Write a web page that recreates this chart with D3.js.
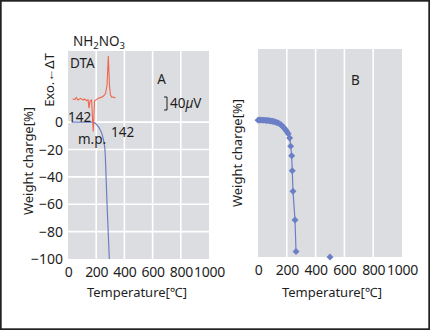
<!DOCTYPE html>
<html>
<head>
<meta charset="utf-8">
<script src="https://cdn.jsdelivr.net/npm/d3@7/dist/d3.min.js"></script>
<style>
  body { margin: 0; background: #fff; }
  text { font-family: "Noto Sans", sans-serif; fill: #1e1e1e; }
</style>
</head>
<body>
<div id="chart"></div>
<script>
const xTicks = [0, 200, 400, 600, 800, 1000];
const yTicks = [0, -20, -40, -60, -80, -100];

// A: TG curve of NH2NO3 (temperature in °C, weight change in %)
const tgTemp   = [26, 100, 150, 179, 205, 225, 245, 255, 262, 277, 293];
const tgWeight = [0, 0, 0, 0, -2, -5, -10, -15, -20, -60, -100];

// A: DTA trace (temperature in °C, signal in µV from baseline)
const dtaTemp = [33, 48, 59, 71, 90, 106, 118, 130, 142, 149, 156, 167, 179, 188, 201, 215, 236, 252, 266, 277, 286, 294, 301, 312, 323, 337];
const dtaUV   = [0, -2, 5, -3, 2, -3, 0, -5, -2, -28, -6, -3, -100, -6, -2, 2, 5, 9, 17, 43, 132, 43, 12, 5, 6, 3];

// B: measured weight change points
const bTemp   = [0, 10, 20, 30, 40, 50, 60, 70, 80, 90, 100, 110, 120, 130, 140, 150, 160, 170, 180, 190, 200, 210, 220, 227, 234, 238, 243, 257, 264, 500];
const bWeight = [0, 0.1, 0.1, 0, 0, -0.1, -0.2, -0.3, -0.4, -0.6, -0.8, -1.0, -1.3, -1.7, -2.1, -2.7, -3.4, -4.4, -5.5, -6.8, -8.2, -9.9, -13, -19, -26, -37, -52, -73, -96, -100];

const width = 430, height = 330;
const gray = "#dcdde0";
const blue = "#6b7fc6";
const red = "#f0654d";

const svg = d3.select("#chart").append("svg")
    .attr("width", width)
    .attr("height", height);

svg.append("rect")
    .attr("x", 0.85).attr("y", 0.85)
    .attr("width", 428.3).attr("height", 328.3)
    .attr("fill", "#fff")
    .attr("stroke", "#222")
    .attr("stroke-width", 1.7);

function panel(id, x0, x1, y0, y1, hGrid) {
    let x = d3.scaleLinear().domain([0, 1000]).range([x0, x1]);
    let y = d3.scaleLinear().domain([-100, 52]).range([y1, y0]);

    let g = svg.append("g");
    g.append("clipPath").attr("id", id)
        .append("rect")
        .attr("x", x0).attr("y", y0)
        .attr("width", x1 - x0).attr("height", y1 - y0);

    g.append("rect")
        .attr("x", x0).attr("y", y0)
        .attr("width", x1 - x0).attr("height", y1 - y0)
        .attr("fill", gray);

    g.selectAll(".vgrid")
        .data(xTicks.slice(1, -1))
        .enter().append("line")
        .attr("x1", d => x(d)).attr("x2", d => x(d))
        .attr("y1", y0).attr("y2", y1)
        .attr("stroke", "#fff").attr("stroke-width", 1.6);

    if (hGrid) {
        g.selectAll(".hgrid")
            .data(yTicks.slice(0, -1))
            .enter().append("line")
            .attr("x1", x0).attr("x2", x1)
            .attr("y1", d => y(d)).attr("y2", d => y(d))
            .attr("stroke", "#fff").attr("stroke-width", 1.6);
    }

    let xAxis = d3.axisBottom(x).tickValues(xTicks).tickFormat(d3.format("d")).tickSize(0).tickPadding(8);
    let ax = g.append("g")
        .attr("transform", "translate(0," + y1 + ")")
        .call(xAxis);
    ax.select(".domain").remove();
    ax.selectAll("text")
        .attr("font-size", "14px")
        .attr("letter-spacing", "-0.3px")
        .attr("font-family", "'Noto Sans', sans-serif")
        .attr("fill", "#1e1e1e");

    return { x, y, g };
}

const A = panel("clipA", 68, 209, 51, 259, true);
const B = panel("clipB", 258, 402, 49, 257, false);

// y axis of A
let yAxis = d3.axisLeft(A.y).tickValues(yTicks).tickSize(0).tickPadding(5);
let ay = svg.append("g")
    .attr("transform", "translate(68,0)")
    .call(yAxis);
ay.select(".domain").remove();
ay.selectAll("text")
    .attr("font-size", "14px")
    .attr("font-family", "'Noto Sans', sans-serif")
    .attr("fill", "#1e1e1e");

// TG line
let tgLine = d3.line()
    .x((d, i) => A.x(tgTemp[i]))
    .y(d => A.y(d))
    .curve(d3.curveMonotoneX);
A.g.append("path")
    .datum(tgWeight)
    .attr("clip-path", "url(#clipA)")
    .attr("d", tgLine)
    .attr("fill", "none")
    .attr("stroke", blue)
    .attr("stroke-width", 1.2);

// DTA trace with its own µV scale
let dtaY = d3.scaleLinear().domain([0, 40]).range([99, 86]);
let dtaLine = d3.line()
    .x((d, i) => A.x(dtaTemp[i]))
    .y(d => dtaY(d));
A.g.append("path")
    .datum(dtaUV)
    .attr("d", dtaLine)
    .attr("fill", "none")
    .attr("stroke", red)
    .attr("stroke-width", 1.1);

// 40 µV scale bar
let barTop = 97, barLen = dtaY(0) - dtaY(40);
svg.append("path")
    .attr("d", `M164,${barTop} H167 V${barTop + barLen} H164`)
    .attr("fill", "none")
    .attr("stroke", "#1e1e1e")
    .attr("stroke-width", 1);
let uv = svg.append("text").attr("x", 170).attr("y", 108).attr("font-size", "13.5px");
uv.append("tspan").text("40");
uv.append("tspan").attr("font-style", "italic").text("µ");
uv.append("tspan").text("V");

// B points and line
let bLine = d3.line()
    .x((d, i) => B.x(bTemp[i]))
    .y(d => B.y(d));
B.g.append("path")
    .datum(bWeight.slice(0, -1))
    .attr("clip-path", "url(#clipB)")
    .attr("d", bLine)
    .attr("fill", "none")
    .attr("stroke", blue)
    .attr("stroke-width", 1.2);

let diamond = d3.symbol().type(d3.symbolSquare).size(24);
B.g.selectAll(".pt")
    .data(bWeight)
    .enter().append("path")
    .attr("d", diamond)
    .attr("transform", (d, i) => `translate(${B.x(bTemp[i])},${B.y(d)}) rotate(45)`)
    .attr("fill", blue);

// labels
function label(txt, x, y, size, anchor) {
    return svg.append("text")
        .attr("x", x).attr("y", y)
        .attr("font-size", size)
        .attr("text-anchor", anchor || "start")
        .text(txt);
}

let nh = svg.append("text").attr("x", 73).attr("y", 46).attr("font-size", "13.5px");
nh.append("tspan").text("NH");
nh.append("tspan").attr("font-size", "9.5px").attr("dy", 3).text("2");
nh.append("tspan").attr("dy", -3).text("NO");
nh.append("tspan").attr("font-size", "9.5px").attr("dy", 3).text("3");

label("DTA", 70, 68, "13.5px");
label("A", 161.5, 84, "13.5px", "middle");
label("B", 355.5, 85, "13.5px", "middle");
label("142", 68, 122, "13.5px");
label("142", 111, 137, "13.5px");
label("m.p.", 78, 144, "13.5px");

svg.append("text")
    .attr("transform", "translate(54,80) rotate(-90)")
    .attr("text-anchor", "middle")
    .attr("font-size", "13px")
    .text("Exo.←ΔT");

svg.append("text")
    .attr("transform", "translate(33,161) rotate(-90)")
    .attr("text-anchor", "middle")
    .attr("font-size", "13px")
    .text("Weight charge[%]");

svg.append("text")
    .attr("transform", "translate(242,153) rotate(-90)")
    .attr("text-anchor", "middle")
    .attr("font-size", "13px")
    .text("Weight charge[%]");

label("Temperature[℃]", 137, 297, "13px", "middle");
label("Temperature[℃]", 332, 297, "13px", "middle");
</script>
</body>
</html>
